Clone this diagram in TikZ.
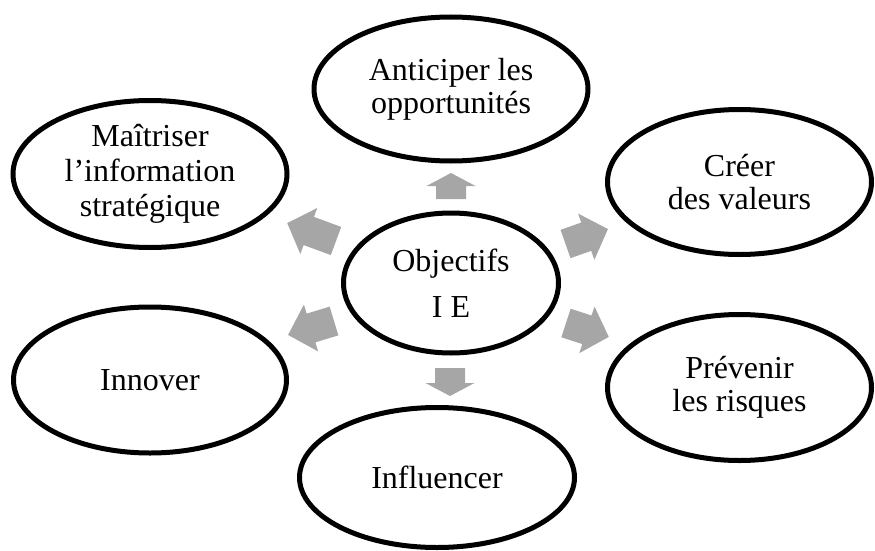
\documentclass[tikz,border=0pt]{standalone}
\usepackage{fontspec}
\setmainfont{Liberation Serif}
\usetikzlibrary{shapes.geometric}

\definecolor{arrowgray}{RGB}{166,166,166}

\tikzset{
  goal/.style={draw=black, line width=5pt, ellipse, fill=white, inner sep=0pt,
    align=center, font=\fontsize{32}{33}\selectfont},
  % block arrow drawn along +x from its tail (0,0) to its tip (#1,0), head length #2
  pics/blockarrow/.style 2 args={
    code={\fill[arrowgray] (0,-15) -- (#1-#2,-15) -- (#1-#2,-24.5) -- (#1,0)
          -- (#1-#2,24.5) -- (#1-#2,15) -- (0,15) -- cycle;}
  }
}

\begin{document}
\begin{tikzpicture}[x=1pt, y=-1pt]
  \useasboundingbox (0,0) rectangle (875,551);

  % outer goals
  \node[goal, minimum width=274pt, minimum height=144pt] (anticiper) at (451,89)
    {Anticiper les\\opportunités};
  \node[goal, minimum width=274pt, minimum height=147pt,
        font=\fontsize{32}{35}\selectfont] (maitriser) at (150,174)
    {Maîtriser\\l’information\\stratégique};
  \node[goal, minimum width=264pt, minimum height=145pt] (creer) at (739.5,182)
    {Créer\\des valeurs};
  \node[goal, minimum width=273pt, minimum height=146pt] (innover) at (150,380)
    {Innover};
  \node[goal, minimum width=264pt, minimum height=146pt] (prevenir) at (739.5,387.5)
    {Prévenir\\les risques};
  \node[goal, minimum width=275pt, minimum height=140pt] (influencer) at (437,477.5)
    {Influencer};

  % centre
  \node[goal, minimum width=215pt, minimum height=140pt,
        font=\fontsize{32}{46}\selectfont] (objectifs) at (451,283)
    {Objectifs\\I E};

  % block arrows pointing outwards from the centre
  \pic[rotate=90]     at (451,199)   {blockarrow={26}{13}};
  \pic[rotate=-90]    at (450,368)   {blockarrow={28}{13}};
  \pic[rotate=159.8]  at (336,241)   {blockarrow={52}{23}};
  \pic[rotate=19.4]   at (565.5,244) {blockarrow={45}{23}};
  \pic[rotate=196.9]  at (334,321)   {blockarrow={48}{24}};
  \pic[rotate=-18]    at (566,323)   {blockarrow={45}{23}};
\end{tikzpicture}
\end{document}
